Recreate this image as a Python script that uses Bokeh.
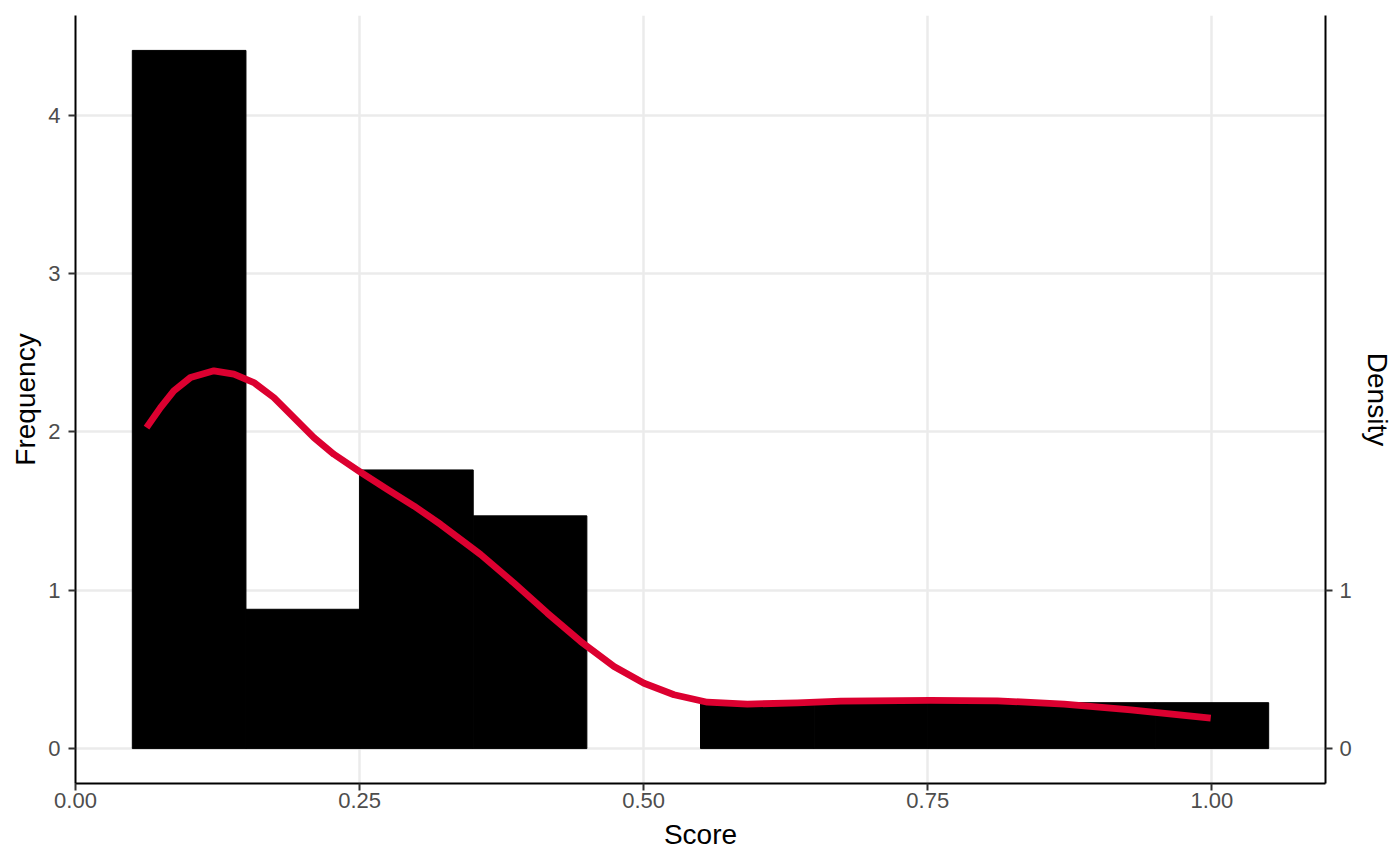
from bokeh.plotting import figure
from bokeh.models import LinearAxis, FixedTicker, Range1d, ColumnDataSource
from bokeh.embed import file_html
from bokeh.resources import INLINE

# ---- data ----
bin_left = [0.05, 0.15, 0.25, 0.35, 0.45, 0.55, 0.65, 0.75, 0.85, 0.95]
bin_right = [0.15, 0.25, 0.35, 0.45, 0.55, 0.65, 0.75, 0.85, 0.95, 1.05]
freq = [4.41, 0.88, 1.76, 1.47, 0.0, 0.29, 0.29, 0.29, 0.29, 0.29]

dens_x = [0.0625, 0.0748, 0.0865, 0.1012, 0.1218, 0.1394, 0.1570, 0.1746,
          0.1922, 0.2098, 0.2274, 0.2494, 0.2744, 0.2979, 0.3213, 0.3448,
          0.3565, 0.3858, 0.4152, 0.4445, 0.4739, 0.5003, 0.5267, 0.5560,
          0.5913, 0.6353, 0.6734, 0.7526, 0.8113, 0.8700, 0.9287, 0.9990]
dens_y = [2.027, 2.154, 2.259, 2.344, 2.386, 2.365, 2.312, 2.217,
          2.090, 1.964, 1.859, 1.753, 1.637, 1.532, 1.416, 1.289,
          1.226, 1.046, 0.856, 0.677, 0.519, 0.413, 0.340, 0.293,
          0.281, 0.289, 0.300, 0.304, 0.302, 0.281, 0.245, 0.192]

x_ticks = [0.0, 0.25, 0.5, 0.75, 1.0]
x_tick_labels = ["0.00", "0.25", "0.50", "0.75", "1.00"]
y_ticks = [0, 1, 2, 3, 4]
density_ticks = [0, 1]

FONT = "Liberation Sans"

p = figure(width=1396, height=862,
           x_range=Range1d(0, 1.1), y_range=Range1d(-0.2205, 4.6305),
           output_backend="svg", toolbar_location=None,
           min_border_left=75, min_border_right=71, min_border_top=15, min_border_bottom=79)
p.outline_line_color = None
p.background_fill_color = "white"
p.border_fill_color = "white"

bars = ColumnDataSource(dict(left=bin_left, right=bin_right, top=freq,
                             edge_alpha=[1.0 if f > 0 else 0.0 for f in freq]))
p.quad(left="left", right="right", bottom=0, top="top", source=bars,
       fill_color="black", line_color="black", line_width=1, line_alpha="edge_alpha")
p.line(dens_x, dens_y, line_color="#DC0030", line_width=6.8, line_join="round")

p.xaxis.ticker = FixedTicker(ticks=x_ticks)
p.xaxis.major_label_overrides = {t: l for t, l in zip(x_ticks, x_tick_labels)}
p.yaxis.ticker = FixedTicker(ticks=y_ticks)
p.xaxis.axis_label = "Score"
p.yaxis.axis_label = "Frequency"

right = LinearAxis(ticker=FixedTicker(ticks=density_ticks), axis_label="Density")
p.add_layout(right, "right")

for ax in [p.xaxis[0], p.yaxis[0], right]:
    ax.axis_line_color = "black"
    ax.axis_line_width = 2
    ax.major_tick_line_color = "#333333"
    ax.major_tick_line_width = 2
    ax.major_tick_out = 7
    ax.major_tick_in = 0
    ax.minor_tick_line_color = None
    ax.major_label_text_font = FONT
    ax.major_label_text_font_size = "22px"
    ax.major_label_text_color = "#4D4D4D"
    ax.axis_label_text_font = FONT
    ax.axis_label_text_font_size = "28px"
    ax.axis_label_text_font_style = "normal"
    ax.axis_label_text_color = "black"

p.xaxis[0].major_label_standoff = 2
p.xaxis[0].axis_label_standoff = 8
p.yaxis[0].major_label_standoff = 8
p.yaxis[0].axis_label_standoff = 4
right.major_label_standoff = 7
right.axis_label_standoff = 7

p.xgrid.grid_line_color = "#EBEBEB"
p.xgrid.grid_line_width = 2.5
p.ygrid.grid_line_color = "#EBEBEB"
p.ygrid.grid_line_width = 2.5

open("out.html", "w").write(file_html(p, INLINE))
